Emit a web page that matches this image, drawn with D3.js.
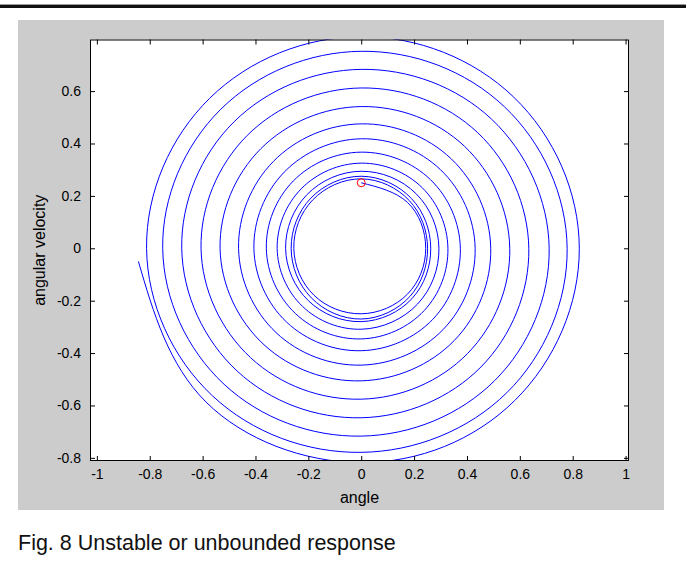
<!DOCTYPE html>
<html>
<head>
<meta charset="utf-8">
<script src="https://cdn.jsdelivr.net/npm/d3@7"></script>
<style>
  html, body { margin: 0; padding: 0; background: #ffffff; }
  svg { display: block; }
  text { font-family: "Liberation Sans", Arial, Helvetica, sans-serif; }
</style>
</head>
<body>
<svg id="chart" width="686" height="561"></svg>
<script>
// Phase-plane trajectory of the pendulum: angle vs angular velocity,
// sampled every eighth of a turn, from the start point outwards.
const angle = [
  0.000, 0.175, 0.244, 0.175, 0.000, -0.179, -0.255, -0.184,
  0.000, 0.182, 0.251, 0.184, 0.000, -0.189, -0.265, -0.191,
  0.000, 0.190, 0.263, 0.192, 0.000, -0.200, -0.286, -0.205,
  0.000, 0.208, 0.294, 0.213, 0.000, -0.222, -0.318, -0.227,
  0.000, 0.231, 0.328, 0.238, 0.000, -0.249, -0.359, -0.257,
  0.000, 0.262, 0.375, 0.271, 0.000, -0.282, -0.406, -0.291,
  0.000, 0.300, 0.431, 0.310, 0.000, -0.322, -0.464, -0.332,
  0.000, 0.341, 0.490, 0.352, 0.000, -0.368, -0.534, -0.380,
  0.000, 0.390, 0.562, 0.402, 0.000, -0.418, -0.606, -0.431,
  0.000, 0.441, 0.634, 0.453, 0.000, -0.469, -0.679, -0.482,
  0.000, 0.493, 0.711, 0.505, 0.000, -0.519, -0.751, -0.531,
  0.000, 0.541, 0.779, 0.551, 0.000, -0.563, -0.812, -0.573,
  0.000, 0.577, 0.825, 0.581, 0.000, -0.587, -0.843
];
const angularVelocity = [
  0.250, 0.175, 0.000, -0.175, -0.250, -0.179, 0.000, 0.184,
  0.265, 0.182, 0.000, -0.184, -0.270, -0.189, 0.000, 0.191,
  0.275, 0.190, 0.000, -0.192, -0.280, -0.200, 0.000, 0.205,
  0.294, 0.208, 0.000, -0.213, -0.309, -0.222, 0.000, 0.227,
  0.325, 0.231, 0.000, -0.238, -0.346, -0.249, 0.000, 0.257,
  0.367, 0.262, 0.000, -0.271, -0.391, -0.282, 0.000, 0.291,
  0.418, 0.300, 0.000, -0.310, -0.446, -0.322, 0.000, 0.332,
  0.475, 0.341, 0.000, -0.352, -0.506, -0.368, 0.000, 0.380,
  0.541, 0.390, 0.000, -0.402, -0.576, -0.418, 0.000, 0.431,
  0.612, 0.441, 0.000, -0.453, -0.647, -0.469, 0.000, 0.482,
  0.683, 0.493, 0.000, -0.505, -0.717, -0.519, 0.000, 0.531,
  0.752, 0.541, 0.000, -0.551, -0.779, -0.563, 0.000, 0.573,
  0.808, 0.577, 0.000, -0.581, -0.818, -0.587, -0.050
];

// Initial condition marker
const startAngle = [0];
const startVelocity = [0.25];

// Axis limits and ticks
const xLimits = [-1.026, 1.013];
const yLimits = [-0.812, 0.797];
const xTicks = [-1, -0.8, -0.6, -0.4, -0.2, 0, 0.2, 0.4, 0.6, 0.8, 1];
const xTickLabels = ["-1", "-0.8", "-0.6", "-0.4", "-0.2", "0", "0.2", "0.4", "0.6", "0.8", "1"];
const yTicks = [-0.8, -0.6, -0.4, -0.2, 0, 0.2, 0.4, 0.6];
const yTickLabels = ["-0.8", "-0.6", "-0.4", "-0.2", "0", "0.2", "0.4", "0.6"];

const xLabel = "angle";
const yLabel = "angular velocity";
const caption = "Fig. 8 Unstable or unbounded response";

const svg = d3.select("#chart");

// Rule across the top of the page
svg.append("rect").attr("x", 0).attr("y", 4).attr("width", 686).attr("height", 1).attr("fill", "#9a9a9a");
svg.append("rect").attr("x", 0).attr("y", 5).attr("width", 686).attr("height", 3).attr("fill", "#111111");

// Figure window background
svg.append("rect")
  .attr("x", 18).attr("y", 20)
  .attr("width", 646).attr("height", 490)
  .attr("fill", "#cccccc");

// Plot box
const box = { left: 90, right: 629, top: 39.5, bottom: 461 };

const x = d3.scaleLinear().domain(xLimits).range([box.left, box.right]);
const y = d3.scaleLinear().domain(yLimits).range([box.bottom, box.top]);

svg.append("rect")
  .attr("x", box.left).attr("y", box.top)
  .attr("width", box.right - box.left).attr("height", box.bottom - box.top)
  .attr("fill", "#ffffff");

svg.append("defs").append("clipPath").attr("id", "plot-clip")
  .append("rect")
  .attr("x", box.left).attr("y", box.top)
  .attr("width", box.right - box.left).attr("height", box.bottom - box.top);

// Trajectory
const pts = angle.map((a, i) => [a, angularVelocity[i]]);
const line = d3.line()
  .x(d => x(d[0]))
  .y(d => y(d[1]))
  .curve(d3.curveNatural);

svg.append("g").attr("clip-path", "url(#plot-clip)")
  .append("path")
  .datum(pts)
  .attr("d", line)
  .attr("fill", "none")
  .attr("stroke", "#0000ff")
  .attr("stroke-width", 1);

// Start marker
svg.append("g").selectAll("circle")
  .data(startAngle.map((a, i) => [a, startVelocity[i]]))
  .join("circle")
  .attr("cx", d => x(d[0]))
  .attr("cy", d => y(d[1]))
  .attr("r", 4)
  .attr("fill", "none")
  .attr("stroke", "#ff0000")
  .attr("stroke-width", 1);

// Axes: inward ticks on all four sides
const tickLen = 5;
function styleAxis(g) {
  g.select(".domain").remove();
  g.selectAll(".tick line").attr("stroke", "#000000");
  g.selectAll(".tick text").attr("fill", "#000000").style("font-size", "14px");
}

svg.append("g")
  .attr("transform", `translate(0,${box.bottom})`)
  .call(d3.axisBottom(x).tickValues(xTicks).tickSize(-tickLen).tickPadding(8)
    .tickFormat((d, i) => xTickLabels[i]))
  .call(styleAxis);

svg.append("g")
  .attr("transform", `translate(0,${box.top})`)
  .call(d3.axisTop(x).tickValues(xTicks).tickSize(-tickLen).tickFormat(() => ""))
  .call(styleAxis);

svg.append("g")
  .attr("transform", `translate(${box.left},0)`)
  .call(d3.axisLeft(y).tickValues(yTicks).tickSize(-tickLen).tickPadding(9)
    .tickFormat((d, i) => yTickLabels[i]))
  .call(styleAxis);

svg.append("g")
  .attr("transform", `translate(${box.right},0)`)
  .call(d3.axisRight(y).tickValues(yTicks).tickSize(-tickLen).tickFormat(() => ""))
  .call(styleAxis);

// Box outline
svg.append("rect")
  .attr("x", box.left + 0.5).attr("y", box.top + 0.5)
  .attr("width", box.right - box.left - 1).attr("height", box.bottom - box.top - 1)
  .attr("fill", "none")
  .attr("stroke", "#000000")
  .attr("stroke-width", 1);

// Axis titles
svg.append("text")
  .attr("x", (box.left + box.right) / 2)
  .attr("y", 503)
  .attr("text-anchor", "middle")
  .style("font-size", "16px")
  .text(xLabel);

svg.append("text")
  .attr("transform", `translate(45,${(box.top + box.bottom) / 2}) rotate(-90)`)
  .attr("text-anchor", "middle")
  .style("font-size", "16px")
  .text(yLabel);

// Caption
svg.append("text")
  .attr("x", 18)
  .attr("y", 550)
  .style("font-size", "21.5px")
  .attr("fill", "#111111")
  .text(caption);
</script>
</body>
</html>
